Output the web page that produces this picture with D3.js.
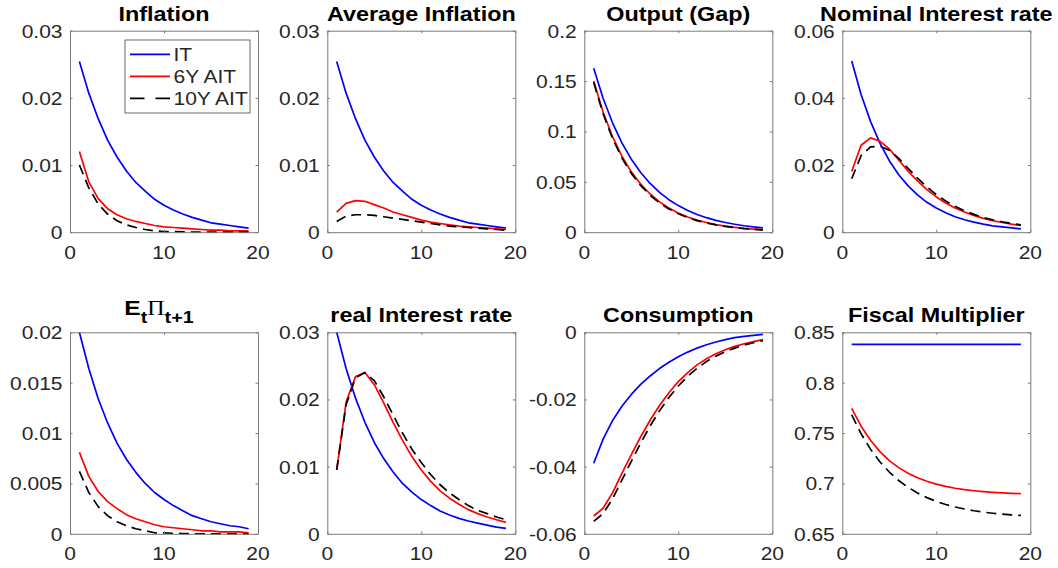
<!DOCTYPE html>
<html>
<head>
<meta charset="utf-8">
<script src="https://cdn.jsdelivr.net/npm/d3@7"></script>
<style>
  html, body { margin: 0; padding: 0; background: #fff; }
  svg { display: block; }
  text { font-family: "Liberation Sans", Arial, Helvetica, sans-serif; }
</style>
</head>
<body>
<svg id="fig" width="1058" height="568"></svg>
<script>
// Impulse responses, periods 1..19
const periods = d3.range(1, 20);

const seriesNames = ["IT", "6Y AIT", "10Y AIT"];

const inflationIT   = [0.0254,0.0207,0.0169,0.0137,0.0112,0.0091,0.0074,0.0061,0.0049,0.0040,0.0033,0.0027,0.0022,0.0018,0.0014,0.0012,0.0010,0.0008,0.0006];
const inflation6Y   = [0.0120,0.0075,0.0050,0.0035,0.0026,0.0020,0.0016,0.0013,0.0010,0.0008,0.0007,0.0006,0.0005,0.0004,0.0003,0.0003,0.0002,0.0002,0.0002];
const inflation10Y  = [0.0100,0.0066,0.0042,0.0027,0.0017,0.0011,0.0007,0.0004,0.0002,0.0001,0.0001,0.00005,0.00003,0.00002,0.00001,0,0,0,0];

const avgInflIT     = [0.0254,0.0207,0.0169,0.0137,0.0112,0.0091,0.0074,0.0061,0.0049,0.0040,0.0033,0.0027,0.0022,0.0018,0.0014,0.0012,0.0010,0.0008,0.0006];
const avgInfl6Y     = [0.0030,0.0043,0.0047,0.0046,0.0041,0.0036,0.0030,0.0026,0.0022,0.0018,0.0015,0.0013,0.0011,0.0009,0.0008,0.0007,0.0006,0.0005,0.0004];
const avgInfl10Y    = [0.0016,0.0024,0.0026,0.0026,0.0025,0.0023,0.0021,0.0019,0.0017,0.0015,0.0013,0.0011,0.0009,0.0008,0.0007,0.0006,0.0005,0.0004,0.0003];

const outputIT      = [0.1627,0.1329,0.1086,0.0887,0.0725,0.0592,0.0484,0.0395,0.0323,0.0264,0.0216,0.0176,0.0144,0.0118,0.0096,0.0079,0.0064,0.0052,0.0043];
const output6Y      = [0.1500,0.1193,0.0948,0.0754,0.0599,0.0477,0.0379,0.0301,0.0240,0.0190,0.0151,0.0120,0.0096,0.0076,0.0060,0.0048,0.0038,0.0030,0.0024];
const output10Y     = [0.1485,0.1175,0.0930,0.0737,0.0584,0.0463,0.0367,0.0291,0.0231,0.0183,0.0145,0.0115,0.0091,0.0072,0.0057,0.0046,0.0036,0.0029,0.0023];

const nominalIT     = [0.0510,0.0410,0.0330,0.0265,0.0213,0.0171,0.0138,0.0111,0.0089,0.0072,0.0058,0.0046,0.0037,0.0030,0.0024,0.0019,0.0016,0.0013,0.0010];
const nominal6Y     = [0.0181,0.0259,0.0281,0.0271,0.0248,0.0215,0.0182,0.0153,0.0127,0.0105,0.0087,0.0072,0.0060,0.0050,0.0041,0.0034,0.0029,0.0024,0.0020];
const nominal10Y    = [0.0159,0.0228,0.0254,0.0256,0.0244,0.0220,0.0190,0.0161,0.0135,0.0112,0.0093,0.0077,0.0064,0.0053,0.0044,0.0037,0.0031,0.0026,0.0022];

const expInflIT     = [0.0200,0.0164,0.0134,0.0110,0.0090,0.0074,0.0061,0.0050,0.0041,0.0034,0.0028,0.0023,0.0018,0.0015,0.0012,0.0010,0.0008,0.0007,0.0005];
const expInfl6Y     = [0.0081,0.0057,0.0042,0.0032,0.0025,0.0019,0.0015,0.0012,0.0009,0.0007,0.0006,0.0005,0.0004,0.0003,0.0003,0.0002,0.0002,0.0002,0.0001];
const expInfl10Y    = [0.0062,0.0041,0.0027,0.0018,0.0012,0.0008,0.0005,0.0003,0.0001,0.0001,0.00005,0.00002,0.00001,0,0,0,0,0,0];

const realIT        = [0.0300,0.0246,0.0202,0.0166,0.0136,0.0112,0.0092,0.0075,0.0062,0.0051,0.0042,0.0034,0.0028,0.0023,0.0019,0.0016,0.0013,0.0010,0.0008];
const real6Y        = [0.0095,0.0196,0.0234,0.0240,0.0222,0.0195,0.0166,0.0139,0.0115,0.0095,0.0078,0.0064,0.0053,0.0044,0.0036,0.0030,0.0025,0.0021,0.0017];
const real10Y       = [0.0095,0.0192,0.0232,0.0240,0.0228,0.0204,0.0177,0.0150,0.0126,0.0106,0.0088,0.0073,0.0061,0.0051,0.0042,0.0035,0.0030,0.0025,0.0021];

const consIT        = [-0.0390,-0.0318,-0.0263,-0.0220,-0.0185,-0.0155,-0.0130,-0.0108,-0.0089,-0.0073,-0.0059,-0.0047,-0.0037,-0.0029,-0.0022,-0.0016,-0.0012,-0.0009,-0.0006];
const cons6Y        = [-0.0547,-0.0524,-0.0478,-0.0420,-0.0364,-0.0311,-0.0262,-0.0218,-0.0180,-0.0147,-0.0120,-0.0097,-0.0079,-0.0064,-0.0052,-0.0042,-0.0034,-0.0028,-0.0022];
const cons10Y       = [-0.0563,-0.0540,-0.0496,-0.0440,-0.0384,-0.0330,-0.0279,-0.0234,-0.0194,-0.0160,-0.0131,-0.0107,-0.0087,-0.0071,-0.0058,-0.0047,-0.0038,-0.0031,-0.0025];

const multIT        = [0.838,0.838,0.838,0.838,0.838,0.838,0.838,0.838,0.838,0.838,0.838,0.838,0.838,0.838,0.838,0.838,0.838,0.838,0.838];
const mult6Y        = [0.7745,0.7568,0.7428,0.7316,0.7227,0.7157,0.7101,0.7056,0.7021,0.6993,0.6970,0.6952,0.6938,0.6927,0.6918,0.6911,0.6906,0.6902,0.6898];
const mult10Y       = [0.7680,0.7493,0.7340,0.7215,0.7113,0.7029,0.6961,0.6905,0.6859,0.6822,0.6791,0.6766,0.6746,0.6729,0.6715,0.6704,0.6695,0.6688,0.6682];

const xTicks = [0, 10, 20];

const panelTitles = ["Inflation", "Average Inflation", "Output (Gap)", "Nominal Interest rate",
                     null, "real Interest rate", "Consumption", "Fiscal Multiplier"];
const yDomains = [[0,0.03],[0,0.03],[0,0.2],[0,0.06],[0,0.02],[0,0.03],[-0.06,0],[0.65,0.85]];
const yTickLists = [
  [0,0.01,0.02,0.03],
  [0,0.01,0.02,0.03],
  [0,0.05,0.1,0.15,0.2],
  [0,0.02,0.04,0.06],
  [0,0.005,0.01,0.015,0.02],
  [0,0.01,0.02,0.03],
  [-0.06,-0.04,-0.02,0],
  [0.65,0.7,0.75,0.8,0.85]
];
const panelSeries = [
  [inflationIT, inflation6Y, inflation10Y],
  [avgInflIT, avgInfl6Y, avgInfl10Y],
  [outputIT, output6Y, output10Y],
  [nominalIT, nominal6Y, nominal10Y],
  [expInflIT, expInfl6Y, expInfl10Y],
  [realIT, real6Y, real10Y],
  [consIT, cons6Y, cons10Y],
  [multIT, mult6Y, mult10Y]
];

// ---- layout & styling ----
const colLeft = [70, 327.3, 584.3, 842.3];
const rowTop = [30.7, 332.3];
const W = 188, H = 201.5;
const STRETCH = 1.2;            // horizontal text stretch
const axisColor = "#7a7a7a";
const labelColor = "#262626";
const lineStyles = [
  { color: "#0000ff", dash: null },
  { color: "#ff0000", dash: null },
  { color: "#000000", dash: "10,6" }
];

const svg = d3.select("#fig");
const defs = svg.append("defs");

const fmt = v => String(+v.toFixed(4));

function stretchedText(g, x, y, str, opts) {
  return g.append("text")
    .attr("transform", `translate(${x},${y}) scale(${STRETCH},1)`)
    .attr("text-anchor", opts.anchor || "start")
    .attr("font-size", opts.size)
    .attr("fill", opts.fill || labelColor)
    .attr("font-weight", opts.weight || "normal")
    .text(str);
}

panelSeries.forEach((series, i) => {
  const col = i % 4, row = Math.floor(i / 4);
  const left = colLeft[col], top = rowTop[row];
  const g = svg.append("g").attr("transform", `translate(${left},${top})`);

  const x = d3.scaleLinear().domain([0, 20]).range([0, W]);
  const y = d3.scaleLinear().domain(yDomains[i]).range([H, 0]);

  const clipId = "clip" + i;
  defs.append("clipPath").attr("id", clipId)
    .append("rect").attr("x", 0).attr("y", -1).attr("width", W).attr("height", H + 2);

  // data lines
  const line = d3.line().x((d, k) => x(periods[k])).y(d => y(d));
  const lg = g.append("g").attr("clip-path", `url(#${clipId})`);
  series.forEach((vals, s) => {
    lg.append("path")
      .datum(vals)
      .attr("d", line)
      .attr("fill", "none")
      .attr("stroke", lineStyles[s].color)
      .attr("stroke-width", 1.7)
      .attr("stroke-linejoin", "round")
      .attr("stroke-dasharray", lineStyles[s].dash);
  });

  // axes box with inward ticks on all four sides
  const tl = 2.5;
  const yAxisL = d3.axisLeft(y).tickValues(yTickLists[i]).tickSizeInner(-tl).tickSizeOuter(0).tickFormat("");
  const yAxisR = d3.axisRight(y).tickValues(yTickLists[i]).tickSizeInner(-tl).tickSizeOuter(0).tickFormat("");
  const xAxisB = d3.axisBottom(x).tickValues(xTicks).tickSizeInner(-tl).tickSizeOuter(0).tickFormat("");
  const xAxisT = d3.axisTop(x).tickValues(xTicks).tickSizeInner(-tl).tickSizeOuter(0).tickFormat("");
  const axes = [
    g.append("g").call(yAxisL),
    g.append("g").attr("transform", `translate(${W},0)`).call(yAxisR),
    g.append("g").attr("transform", `translate(0,${H})`).call(xAxisB),
    g.append("g").call(xAxisT)
  ];
  axes.forEach(a => {
    a.selectAll("path.domain").attr("stroke", axisColor).attr("stroke-width", 1);
    a.selectAll(".tick line").attr("stroke", axisColor).attr("stroke-width", 1);
  });

  // tick labels
  yTickLists[i].forEach(v => {
    stretchedText(g, -7.5, y(v) + 7, fmt(v), { anchor: "end", size: 17.5 });
  });
  xTicks.forEach(v => {
    stretchedText(g, x(v), H + 26.5, fmt(v), { anchor: "middle", size: 17.5 });
  });

  // title
  if (panelTitles[i] !== null) {
    stretchedText(g, W / 2, -10, panelTitles[i], { anchor: "middle", size: 19.5, weight: "bold", fill: "#000" });
  } else {
    const t = g.append("text")
      .attr("transform", `translate(${W / 2 - 5},-17) scale(${STRETCH},1)`)
      .attr("text-anchor", "middle")
      .attr("font-weight", "bold")
      .attr("fill", "#000")
      .attr("font-size", 20.5);
    t.append("tspan").text("E");
    t.append("tspan").attr("font-size", 16.5).attr("dy", 7.5).text("t");
    t.append("tspan").attr("font-family", "'Liberation Serif', 'Times New Roman', serif")
      .attr("font-weight", "normal").attr("font-size", 20).attr("dy", -7.5).text("\u03A0");
    t.append("tspan").attr("font-size", 16.5).attr("dy", 7.5).text("t+1");
  }

  // legend in the first panel
  if (i === 0) {
    const lgd = svg.append("g");
    lgd.append("rect")
      .attr("x", 125).attr("y", 40).attr("width", 125).attr("height", 73)
      .attr("fill", "#fff").attr("stroke", "#444").attr("stroke-width", 0.8);
    seriesNames.forEach((name, s) => {
      const ly = 54.3 + s * 22;
      lgd.append("line")
        .attr("x1", 130).attr("x2", 170).attr("y1", ly).attr("y2", ly)
        .attr("stroke", lineStyles[s].color).attr("stroke-width", 1.7)
        .attr("stroke-dasharray", lineStyles[s].dash ? "14.5,11" : null);
      stretchedText(lgd, 173.5, ly + 6.5, name, { size: 17.5 });
    });
  }
});
</script>
</body>
</html>
